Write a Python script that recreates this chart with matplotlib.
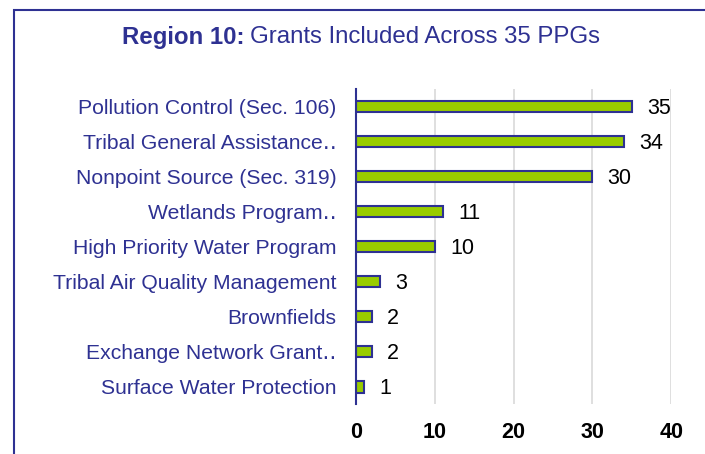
import matplotlib.pyplot as plt
from matplotlib.patches import Rectangle

plt.rcParams['font.family'] = ['Liberation Sans', 'DejaVu Sans']

# grants, top to bottom as in the chart
categories = [
    'Pollution Control (Sec. 106)',
    'Tribal General Assistance\u2025',
    'Nonpoint Source (Sec. 319)',
    'Wetlands Program\u2025',
    'High Priority Water Program',
    'Tribal Air Quality Management',
    'Brownfields',
    'Exchange Network Grant\u2025',
    'Surface Water Protection',
]
counts = [35, 34, 30, 11, 10, 3, 2, 2, 1]
xticks = [0, 10, 20, 30, 40]

navy = '#2E3192'
green = '#99CC00'

fig = plt.figure(figsize=(7.05, 4.54), dpi=100)
ax = fig.add_axes([0.505, 0.110, 0.447, 0.694])

ypos = list(range(len(categories)))[::-1]
ax.barh(ypos, counts, height=0.34, color=green, edgecolor=navy, linewidth=1.5, zorder=3)
for y, v in zip(ypos, counts):
    ax.annotate(str(v), (v, y), xytext=(11, -1.5), textcoords='offset points',
                va='center', ha='left', fontsize=15.5, color='black')

ax.set_xlim(0, 40)
ax.set_ylim(-0.5, len(categories) - 0.5)
ax.set_yticks(ypos)
ax.set_yticklabels(categories, fontsize=15.2, color=navy)
ax.set_xticks(xticks)
ax.set_xticklabels([str(t) for t in xticks], fontsize=15.5, fontweight='bold')
ax.tick_params(axis='both', length=0)
ax.tick_params(axis='y', pad=14)
ax.tick_params(axis='x', pad=13)
ax.grid(axis='x', color='#D9D9D9', linewidth=1.2, zorder=0)
for s in ['top', 'right', 'bottom']:
    ax.spines[s].set_visible(False)
ax.spines['left'].set_color(navy)
ax.spines['left'].set_linewidth(1.5)
ax.spines['left'].set_zorder(4)

# two-part title: bold prefix + regular text, centred as a whole
t1 = fig.text(0, 0.918, 'Region 10:', ha='left', va='center', fontsize=17.3,
              fontweight='bold', color=navy)
t2 = fig.text(0, 0.918, 'Grants Included Across 35 PPGs', ha='left', va='center',
              fontsize=17.3, color=navy)
fig.canvas.draw()
w1 = t1.get_window_extent().width
w2 = t2.get_window_extent().width
gap = 5
x0 = 361 - (w1 + gap + w2) / 2
t1.set_x(x0 / fig.bbox.width)
t2.set_x((x0 + w1 + gap) / fig.bbox.width)

fig.patches.append(Rectangle((14 / 705, -0.05), 1.2, 1.0 - 10 / 454 + 0.05,
                             transform=fig.transFigure, fill=False,
                             edgecolor=navy, linewidth=1.5))

fig.savefig('out.png', dpi=100)
